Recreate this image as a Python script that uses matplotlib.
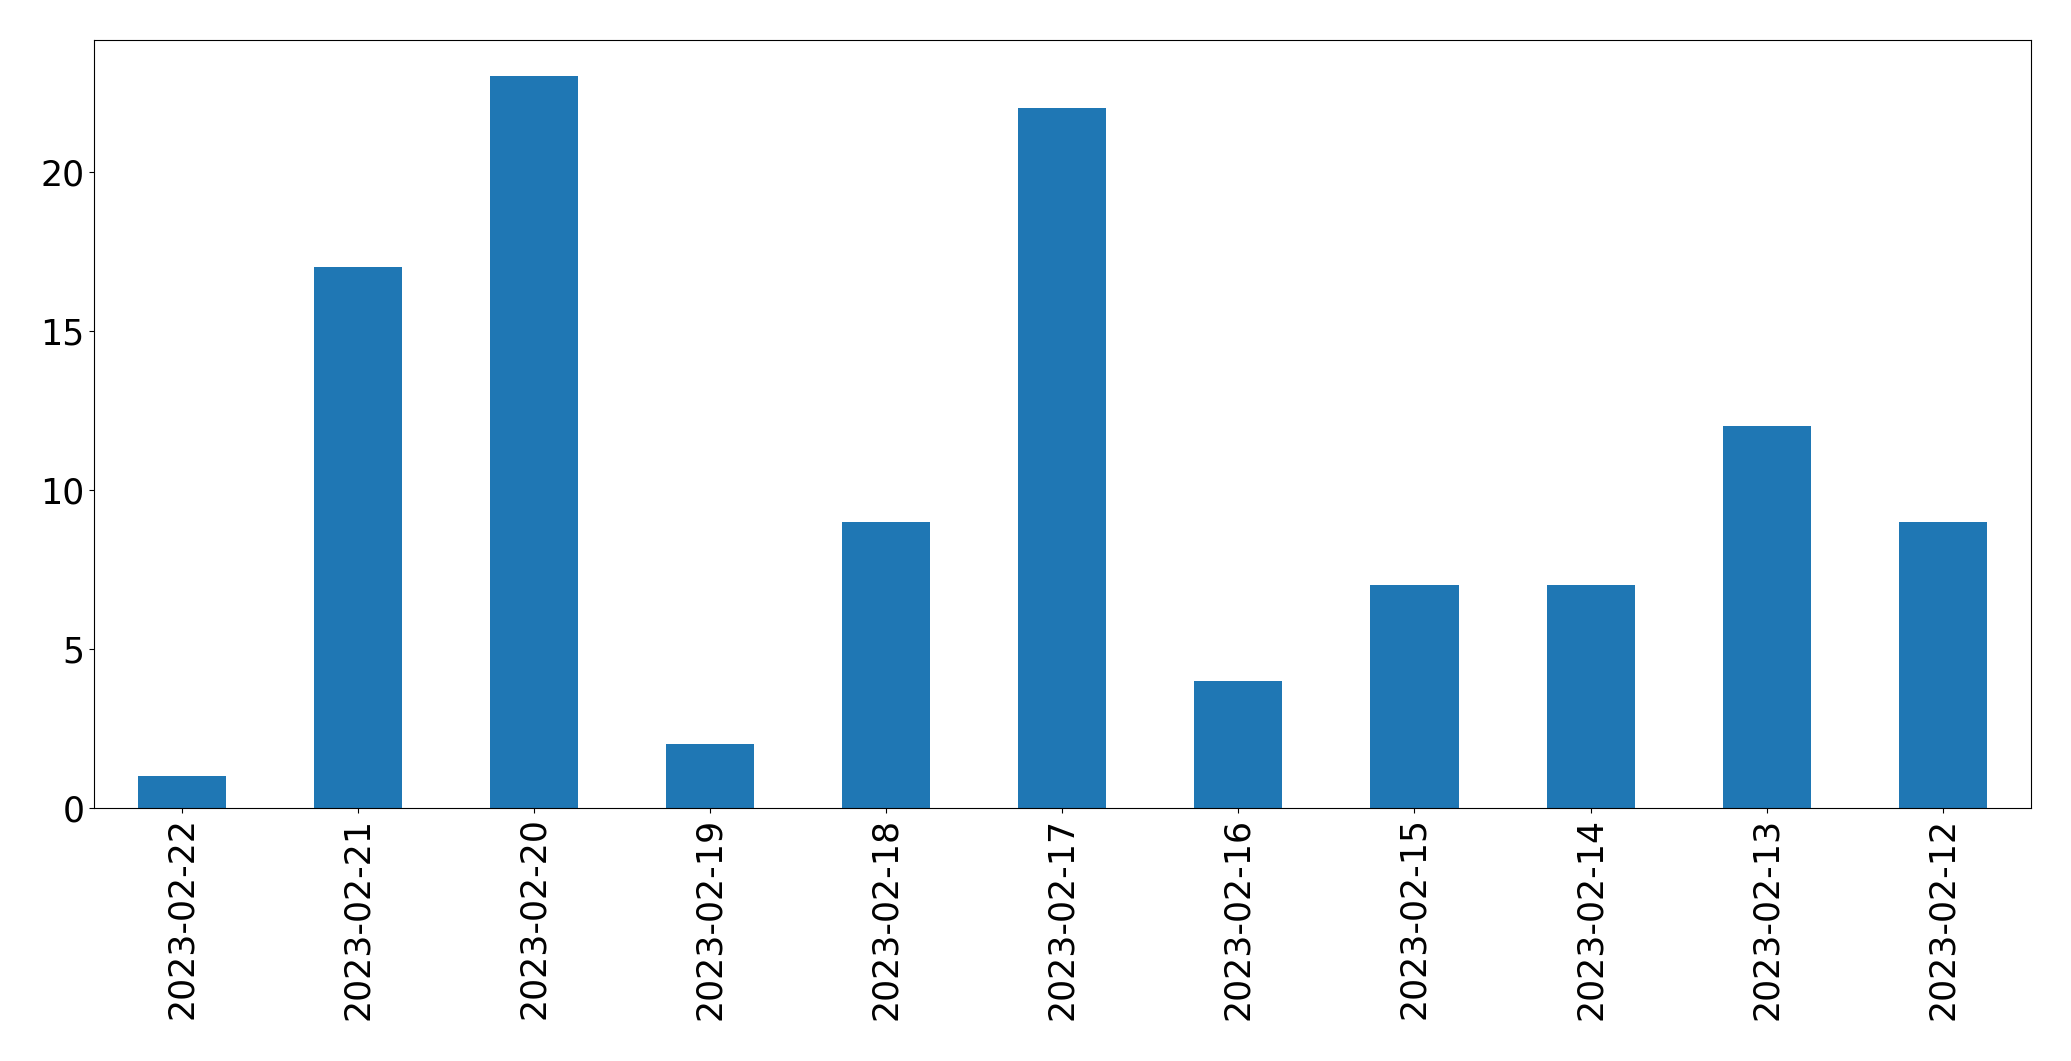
import matplotlib
matplotlib.use("Agg")
import matplotlib.pyplot as plt

dates = ["2023-02-22", "2023-02-21", "2023-02-20", "2023-02-19", "2023-02-18",
         "2023-02-17", "2023-02-16", "2023-02-15", "2023-02-14", "2023-02-13",
         "2023-02-12"]
counts = [1, 17, 23, 2, 9, 22, 4, 7, 7, 12, 9]

fig = plt.figure(figsize=(20.71, 10.61), dpi=100)
ax = fig.add_axes([0.0455, 0.2387, 0.935, 0.7238])
x = range(len(dates))
ax.bar(x, counts, width=0.5, color="#1f77b4")
ax.set_xlim(-0.5, len(dates) - 0.5)
ax.set_xticks(list(x))
ax.set_xticklabels(dates, rotation=90, fontsize=25)
ax.set_yticks([0, 5, 10, 15, 20])
ax.tick_params(axis="y", labelsize=25)
fig.savefig("out.png", dpi=100)
